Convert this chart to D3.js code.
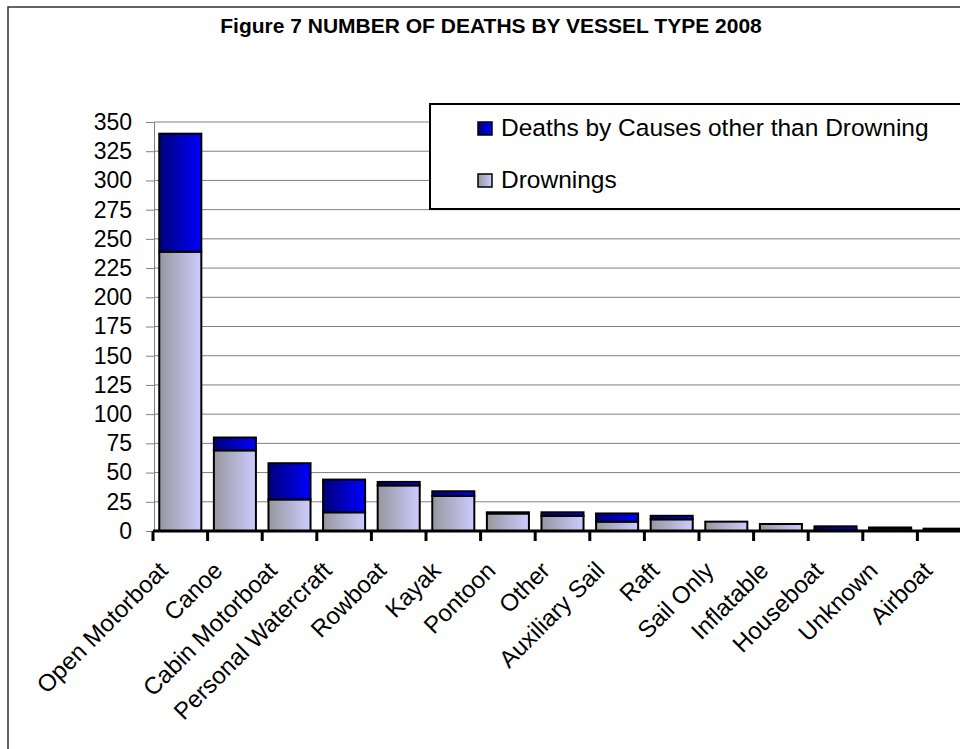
<!DOCTYPE html>
<html>
<head>
<meta charset="utf-8">
<script src="https://cdn.jsdelivr.net/npm/d3@7"></script>
<style>
  html, body { margin: 0; padding: 0; background: #fff; }
  svg { display: block; font-family: Arial, "Liberation Sans", sans-serif; }
</style>
</head>
<body>
<svg id="chart" width="960" height="749"></svg>
<script>
// Vessel types, in order of total deaths
const vesselTypes = ["Open Motorboat", "Canoe", "Cabin Motorboat", "Personal Watercraft",
  "Rowboat", "Kayak", "Pontoon", "Other", "Auxiliary Sail", "Raft", "Sail Only",
  "Inflatable", "Houseboat", "Unknown", "Airboat"];
// Drownings per vessel type
const drownings = [239, 69, 27, 16, 39, 30, 15, 13, 8, 10, 8, 6, 1, 2, 1];
// Deaths by causes other than drowning per vessel type
const otherDeaths = [101, 11, 31, 28, 3, 4, 1, 3, 7, 3, 0, 0, 3, 1, 1];
// Value-axis ticks
const yTicks = [0, 25, 50, 75, 100, 125, 150, 175, 200, 225, 250, 275, 300, 325, 350];
const seriesNames = ["Deaths by Causes other than Drowning", "Drownings"];
const chartTitle = "Figure 7 NUMBER OF DEATHS BY VESSEL TYPE 2008";

const svg = d3.select("#chart");

// gradients for the two series
const defs = svg.append("defs");
function grad(id, c0, c1) {
  const g = defs.append("linearGradient").attr("id", id)
    .attr("x1", "0%").attr("x2", "100%").attr("y1", "0%").attr("y2", "0%");
  g.append("stop").attr("offset", "0%").attr("stop-color", c0);
  g.append("stop").attr("offset", "100%").attr("stop-color", c1);
}
grad("gDrown", "#97979f", "#ccccff");
grad("gOther", "#00007a", "#0000ff");

// outer chart frame
svg.append("rect").attr("x", 8).attr("y", 7).attr("width", 1000).attr("height", 800)
  .attr("fill", "none").attr("stroke", "#333").attr("stroke-width", 1.5);

// title
svg.append("text").attr("x", 491).attr("y", 33)
  .attr("text-anchor", "middle")
  .attr("font-weight", "bold").attr("font-size", 21).attr("fill", "#000")
  .text(chartTitle);

const x = d3.scaleBand().domain(vesselTypes).range([153, 972])
  .paddingInner(0.23).paddingOuter(0.115);
const y = d3.scaleLinear().domain([0, 350]).range([531, 122]);

// gridlines
svg.append("g").selectAll("line").data(yTicks.filter(d => d > 0)).join("line")
  .attr("x1", 154).attr("x2", 980)
  .attr("y1", d => y(d)).attr("y2", d => y(d))
  .attr("stroke", "#808080").attr("stroke-width", 1);

// y axis
const yAxis = svg.append("g").attr("transform", "translate(154,0)")
  .call(d3.axisLeft(y).tickValues(yTicks).tickSize(8).tickPadding(14).tickSizeOuter(0));
yAxis.select(".domain").attr("stroke", "#808080");
yAxis.selectAll(".tick line").attr("stroke", "#808080");
yAxis.selectAll(".tick text").attr("font-size", 23).attr("fill", "#000")
  .attr("font-family", "Arial, 'Liberation Sans', sans-serif")
  .attr("x", -22);

// stacked bars
const stack = vesselTypes.map((v, i) => ({ v, d: drownings[i], o: otherDeaths[i] }));
const bars = svg.append("g");
bars.selectAll("rect.drown").data(stack).join("rect").attr("class", "drown")
  .attr("x", d => x(d.v)).attr("width", x.bandwidth())
  .attr("y", d => y(d.d)).attr("height", d => y(0) - y(d.d))
  .attr("fill", "url(#gDrown)").attr("stroke", "#000").attr("stroke-width", 2);
bars.selectAll("rect.other").data(stack.filter(d => d.o > 0)).join("rect").attr("class", "other")
  .attr("x", d => x(d.v)).attr("width", x.bandwidth())
  .attr("y", d => y(d.d + d.o)).attr("height", d => y(d.d) - y(d.d + d.o))
  .attr("fill", "url(#gOther)").attr("stroke", "#000").attr("stroke-width", 2);

// category axis
const xAxis = svg.append("g").attr("transform", "translate(0,531)")
  .call(d3.axisBottom(x).tickSize(0).tickSizeOuter(0));
xAxis.select(".domain").remove();
svg.append("line").attr("x1", 153).attr("x2", 980).attr("y1", 531).attr("y2", 531)
  .attr("stroke", "#000").attr("stroke-width", 3);
// tick marks between categories
const bounds = vesselTypes.map(v => x(v) - x.step() * x.paddingInner() / 2);
svg.append("g").selectAll("line").data(bounds).join("line")
  .attr("x1", d => d).attr("x2", d => d).attr("y1", 531).attr("y2", 541)
  .attr("stroke", "#000").attr("stroke-width", 3);
xAxis.selectAll(".tick text")
  .attr("font-size", 24).attr("fill", "#000")
  .attr("font-family", "Arial, 'Liberation Sans', sans-serif")
  .attr("text-anchor", "end").attr("dy", null).attr("y", 0)
  .attr("transform", "translate(-11,41) rotate(-45)");

// legend
const lg = svg.append("g");
lg.append("rect").attr("x", 430).attr("y", 104).attr("width", 600).attr("height", 105)
  .attr("fill", "#fff").attr("stroke", "#000").attr("stroke-width", 2);
const lgFills = ["url(#gOther)", "url(#gDrown)"];
const lgBase = [136, 188];
seriesNames.forEach((s, i) => {
  lg.append("rect").attr("x", 478).attr("y", lgBase[i] - 14).attr("width", 14).attr("height", 13)
    .attr("fill", lgFills[i]).attr("stroke", "#000").attr("stroke-width", 1.5);
  lg.append("text").attr("x", 501).attr("y", lgBase[i])
    .attr("font-size", 24.5).attr("fill", "#000").text(s);
});
</script>
</body>
</html>
